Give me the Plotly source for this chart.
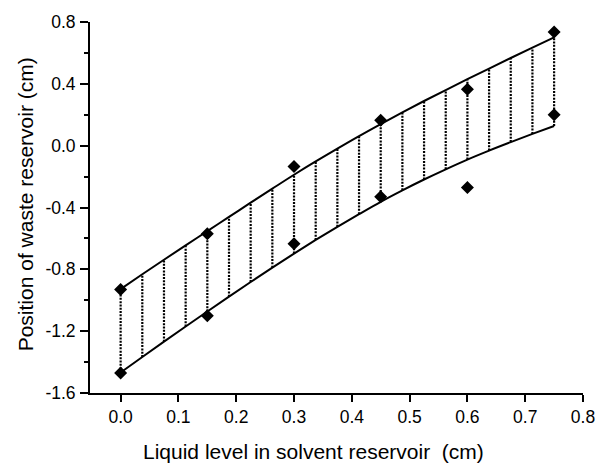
import plotly.graph_objects as go

# Hatch / curve sample positions (cm)
hatch_x = [0.0, 0.0375, 0.075, 0.1125, 0.15, 0.1875, 0.225, 0.2625, 0.3, 0.3375,
           0.375, 0.4125, 0.45, 0.4875, 0.525, 0.5625, 0.6, 0.6375, 0.675, 0.7125, 0.75]
# Upper and lower boundary curves
upper_curve = [-0.928, -0.832, -0.738, -0.645, -0.553, -0.461, -0.369, -0.278, -0.188, -0.102,
               -0.019, 0.062, 0.140, 0.216, 0.289, 0.360, 0.430, 0.499, 0.567, 0.634, 0.700]
lower_curve = [-1.467, -1.367, -1.268, -1.170, -1.073, -0.977, -0.882, -0.789, -0.698, -0.610,
               -0.525, -0.443, -0.363, -0.289, -0.219, -0.153, -0.090, -0.032, 0.023, 0.076, 0.127]

# Measured points
pts_x = [0.0, 0.15, 0.3, 0.45, 0.6, 0.75]
pts_upper = [-0.93, -0.57, -0.135, 0.165, 0.365, 0.735]
pts_lower = [-1.47, -1.10, -0.635, -0.33, -0.27, 0.20]

x_ticks = [0.0, 0.1, 0.2, 0.3, 0.4, 0.5, 0.6, 0.7, 0.8]
x_ticklabels = ["0.0", "0.1", "0.2", "0.3", "0.4", "0.5", "0.6", "0.7", "0.8"]
y_ticks = [-1.6, -1.2, -0.8, -0.4, 0.0, 0.4, 0.8]
y_ticklabels = ["-1.6", "-1.2", "-0.8", "-0.4", "0.0", "0.4", "0.8"]
y_minor = [-1.4, -1.0, -0.6, -0.2, 0.2, 0.6]

x_title = "Liquid level in solvent reservoir  (cm)"
y_title = "Position of waste reservoir (cm)"

FONT = "Liberation Sans, Arial, sans-serif"

fig = go.Figure()

# dotted hatch lines between curves
hx, hy = [], []
for xv, lo, up in zip(hatch_x, lower_curve, upper_curve):
    hx += [xv, xv, None]
    hy += [lo, up, None]
fig.add_trace(go.Scatter(x=hx, y=hy, mode="lines",
                         line=dict(color="black", width=2.2, dash="2px,1.3px"),
                         hoverinfo="skip", showlegend=False))

fig.add_trace(go.Scatter(x=hatch_x, y=upper_curve, mode="lines",
                         line=dict(color="black", width=2, shape="spline"),
                         showlegend=False))
fig.add_trace(go.Scatter(x=hatch_x, y=lower_curve, mode="lines",
                         line=dict(color="black", width=2, shape="spline"),
                         showlegend=False))

fig.add_trace(go.Scatter(x=pts_x + pts_x, y=pts_upper + pts_lower, mode="markers",
                         marker=dict(symbol="diamond", size=10, color="black"),
                         showlegend=False))

fig.update_layout(
    width=607, height=463,
    margin=dict(l=90, r=15, t=20, b=70),
    paper_bgcolor="white", plot_bgcolor="white",
    font=dict(family=FONT, color="black"),
    showlegend=False,
    annotations=[
        dict(text=x_title, xref="paper", yref="paper", x=0.453, y=-0.157,
             xanchor="center", yanchor="middle", showarrow=False,
             font=dict(size=21, family=FONT, color="black")),
        dict(text=y_title, xref="paper", yref="paper", x=-0.1315, y=0.509,
             xanchor="center", yanchor="middle", showarrow=False, textangle=-90,
             font=dict(size=21, family=FONT, color="black")),
    ],
)
fig.update_xaxes(
    range=[-0.053, 0.8], tickvals=x_ticks, ticktext=x_ticklabels,
    showgrid=False, zeroline=False, showline=True, linecolor="black", linewidth=1.8,
    ticks="outside", ticklen=7, tickwidth=1.8, tickcolor="black",
    tickfont=dict(size=17.5, family=FONT, color="black"), ticklabelstandoff=0,
)
fig.update_yaxes(
    range=[-1.6, 0.8], tickvals=y_ticks, ticktext=y_ticklabels,
    showgrid=False, zeroline=False, showline=True, linecolor="black", linewidth=1.8,
    ticks="outside", ticklen=8, tickwidth=1.8, tickcolor="black",
    minor=dict(tickvals=y_minor, ticks="outside",
               ticklen=4, tickwidth=1.8, tickcolor="black", showgrid=False),
    tickfont=dict(size=17.5, family=FONT, color="black"), ticklabelstandoff=1,
)

fig.write_html("out.html")
